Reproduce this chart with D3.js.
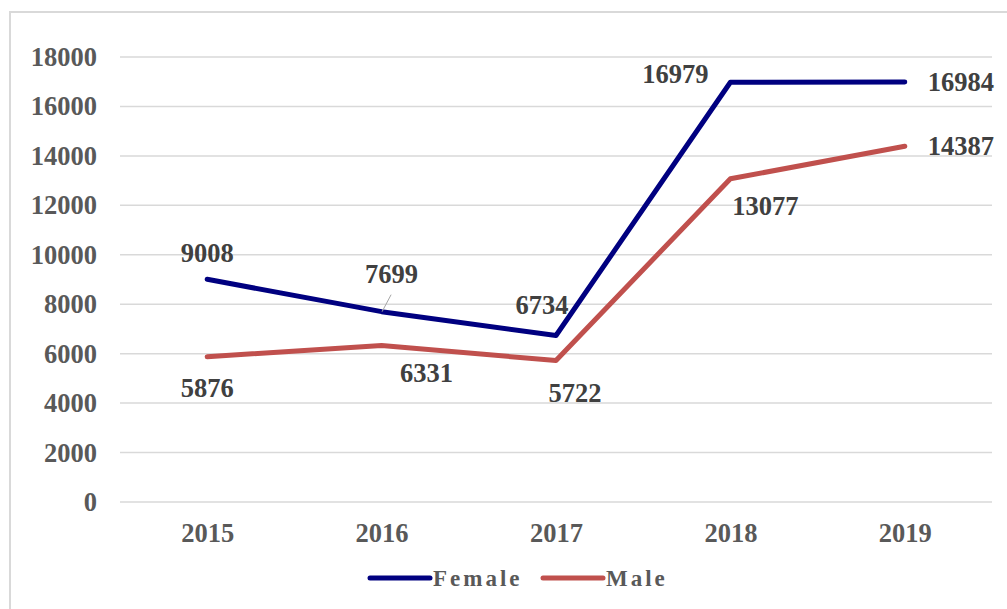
<!DOCTYPE html>
<html>
<head>
<meta charset="utf-8">
<script src="https://cdn.jsdelivr.net/npm/d3@7"></script>
<style>
  body { margin: 0; background: #fff; }
  text { font-family: "Liberation Serif", "Times New Roman", serif; font-weight: bold; }
</style>
</head>
<body>
<div id="chart"></div>
<script>
// data
var years = ["2015", "2016", "2017", "2018", "2019"];
var female = [9008, 7699, 6734, 16979, 16984];
var male = [5876, 6331, 5722, 13077, 14387];
var yTicks = [0, 2000, 4000, 6000, 8000, 10000, 12000, 14000, 16000, 18000];

// label offsets (dx, dy) relative to the point, per series
var femaleLabelPos = [[0, -17], [10, -29], [-14, -22], [-55, 1], [56, 9]];
var maleLabelPos = [[0, 40], [45, 37], [19, 41], [35, 36], [56, 9]];

var width = 1007, height = 609;
var fontSize = "26.5px";

var svg = d3.select("#chart").append("svg")
    .attr("width", width)
    .attr("height", height);

// chart border
svg.append("rect")
    .attr("x", 10).attr("y", 12)
    .attr("width", 1010).attr("height", 620)
    .style("fill", "none")
    .style("stroke", "#d9d9d9")
    .attr("stroke-width", 2);

var x = d3.scalePoint().domain(years).range([120, 992]).padding(0.5);
var y = d3.scaleLinear().domain([0, 18000]).range([502, 57]);

// gridlines
svg.selectAll("line.grid")
    .data(yTicks)
    .enter().append("line")
      .attr("class", "grid")
      .attr("x1", 120).attr("x2", 992)
      .attr("y1", function(d) { return y(d); })
      .attr("y2", function(d) { return y(d); })
      .style("stroke", "#d9d9d9")
      .attr("stroke-width", 1.5);

// y axis labels
var yAxis = d3.axisLeft(y).tickValues(yTicks).tickFormat(d3.format("d")).tickSize(0).tickPadding(0);
var gy = svg.append("g").attr("transform", "translate(97,0)").call(yAxis);
gy.select(".domain").remove();
gy.selectAll("text")
    .style("font-size", fontSize)
    .style("fill", "#595959")
    .style("font-family", "Liberation Serif, serif")
    .style("font-weight", "bold");

// x axis labels
var xAxis = d3.axisBottom(x).tickSize(0).tickPadding(0);
var gx = svg.append("g").attr("transform", "translate(0,523)").call(xAxis);
gx.select(".domain").remove();
gx.selectAll("text")
    .style("font-size", fontSize)
    .style("fill", "#595959")
    .style("font-family", "Liberation Serif, serif")
    .style("font-weight", "bold");

var line = d3.line()
    .x(function(d, i) { return x(years[i]); })
    .y(function(d) { return y(d); });

var series = [
  {name: "Female", values: female, color: "#000080", labels: femaleLabelPos},
  {name: "Male", values: male, color: "#c0504d", labels: maleLabelPos}
];

series.forEach(function(s) {
  svg.append("path")
      .datum(s.values)
      .attr("d", line)
      .style("fill", "none")
      .style("stroke", s.color)
      .attr("stroke-width", 5)
      .attr("stroke-linejoin", "round")
      .attr("stroke-linecap", "round");
});

// leader line for 7699
svg.append("line")
    .attr("x1", x("2016") + 9.5).attr("y1", y(female[1]) - 17)
    .attr("x2", x("2016") + 0.5).attr("y2", y(female[1]))
    .style("stroke", "#a6a6a6")
    .attr("stroke-width", 1);

// data labels
series.forEach(function(s) {
  svg.selectAll("text.lbl-" + s.name)
      .data(s.values)
      .enter().append("text")
        .attr("class", "lbl-" + s.name)
        .attr("x", function(d, i) { return x(years[i]) + s.labels[i][0]; })
        .attr("y", function(d, i) { return y(d) + s.labels[i][1]; })
        .attr("text-anchor", "middle")
        .style("font-size", fontSize)
        .style("fill", "#404040")
        .text(function(d) { return d; });
});

// legend
var legend = [
  {name: "Female", color: "#000080", x: 370},
  {name: "Male", color: "#c0504d", x: 543}
];
legend.forEach(function(l) {
  svg.append("line")
      .attr("x1", l.x).attr("x2", l.x + 60)
      .attr("y1", 578).attr("y2", 578)
      .style("stroke", l.color)
      .attr("stroke-width", 5)
      .attr("stroke-linecap", "round");
  svg.append("text")
      .attr("x", l.x + 63).attr("y", 586)
      .style("font-size", "23px")
      .style("letter-spacing", "3px")
      .style("fill", "#595959")
      .text(l.name);
});
</script>
</body>
</html>
